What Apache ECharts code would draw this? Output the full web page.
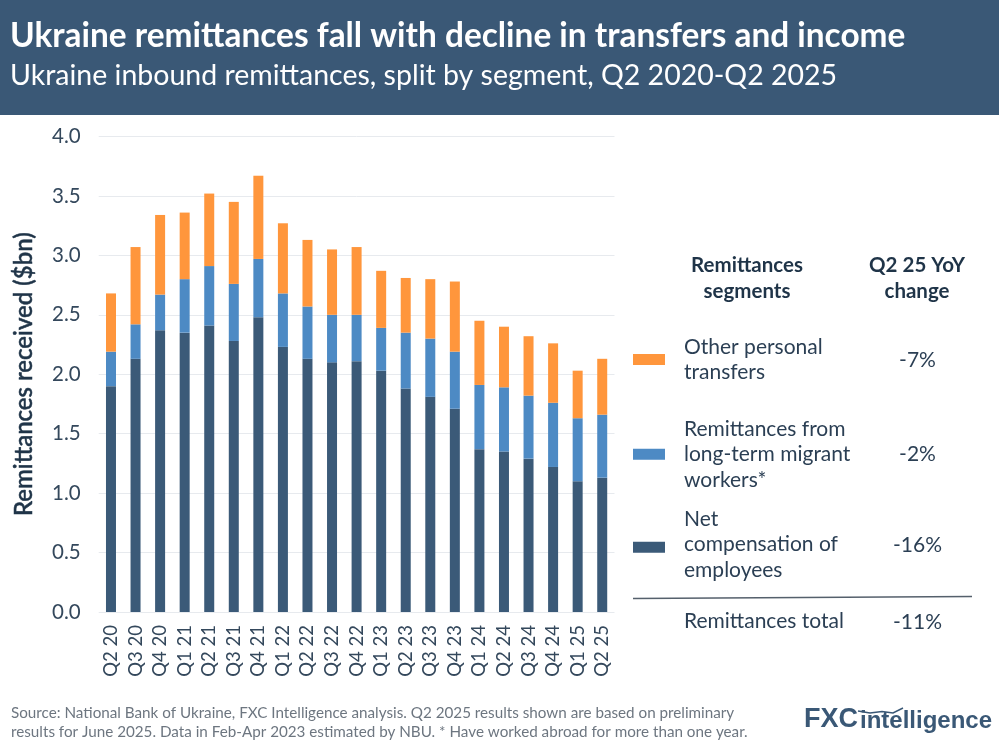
<!DOCTYPE html>
<html><head><meta charset="utf-8">
<style>html,body{margin:0;padding:0;background:#fff}#c{width:999px;height:749px}</style>
<script src="https://cdn.jsdelivr.net/npm/echarts@6/dist/echarts.min.js"></script>
</head><body><div id="c"></div>
<script>
const categories = ['Q2 20','Q3 20','Q4 20','Q1 21','Q2 21','Q3 21','Q4 21','Q1 22','Q2 22','Q3 22','Q4 22','Q1 23','Q2 23','Q3 23','Q4 23','Q1 24','Q2 24','Q3 24','Q4 24','Q1 25','Q2 25'];
const compensation = [1.90,2.13,2.37,2.35,2.41,2.28,2.48,2.23,2.13,2.10,2.11,2.03,1.88,1.81,1.71,1.37,1.35,1.29,1.22,1.10,1.13];
const migrant = [0.29,0.29,0.30,0.45,0.50,0.48,0.49,0.45,0.44,0.40,0.39,0.36,0.47,0.49,0.48,0.54,0.54,0.53,0.54,0.53,0.53];
const other = [0.49,0.65,0.67,0.56,0.61,0.69,0.70,0.59,0.56,0.55,0.57,0.48,0.46,0.50,0.59,0.54,0.51,0.50,0.50,0.40,0.47];
const names = ['Net compensation of employees','Remittances from long-term migrant workers*','Other personal transfers'];
const colors = ['#3b5a78','#4d8ac4','#ff963c'];
const yoy = ['-16%','-2%','-7%'];
const FONT = 'Lato';
const INK = '#2b3f54';
const wrapped = {
  'Net compensation of employees':'Net\ncompensation of\nemployees\n{s|}',
  'Remittances from long-term migrant workers*':'Remittances from\nlong-term migrant\nworkers*',
  'Other personal transfers':'Other personal\ntransfers'
};
function legendAt(name, top){
  return {data:[{name, itemStyle:{color:colors[names.indexOf(name)]}}], left:628, top, orient:'vertical', itemWidth:32, itemHeight:11, itemGap:0, selectedMode:false, icon:'rect',
    formatter:n=>wrapped[n], textStyle:{fontFamily:FONT,fontSize:21,lineHeight:25.5,color:INK,padding:[0,0,0,14],rich:{s:{lineHeight:6,fontSize:1,height:6}}}};
}
function txt(x,y,text,o){return {type:'text',x,y,silent:true,style:Object.assign({text,fontFamily:FONT,fill:INK,textVerticalAlign:'middle'},o)};}
const chart = echarts.init(document.getElementById('c'),null,{renderer:'canvas'});
chart.setOption({
  animation:false,
  backgroundColor:'#fff',
  grid:{left:98.7,top:136.5,width:515.8,height:475.5,containLabel:false},
  xAxis:{type:'category',data:categories,axisTick:{show:false},
    axisLine:{show:false},
    axisLabel:{rotate:90,margin:13,interval:0,fontFamily:FONT,fontSize:18.5,color:'#34485c'}},
  yAxis:{type:'value',min:0,max:4,interval:0.5,
    name:'Remittances received ($bn)',nameLocation:'middle',nameGap:62,nameRotate:90,
    nameTextStyle:{fontFamily:FONT,fontSize:24,fontWeight:500,color:'#1f3448',textBorderColor:'#1f3448',textBorderWidth:0.5},
    axisLine:{show:false},axisTick:{show:false},
    splitLine:{lineStyle:{color:'#e7eaee',width:1}},
    axisLabel:{margin:18,formatter:v=>v.toFixed(1),fontFamily:FONT,fontSize:20.5,color:'#34485c'}},
  legend:[legendAt(names[2],329),legendAt(names[1],411),legendAt(names[0],501)],
  series:[compensation,migrant,other].map((d,i)=>({
    name:names[i],type:'bar',stack:'total',data:d,barWidth:10,itemStyle:{color:colors[i]}
  })),
  graphic:[
    {type:'rect',z:-1,shape:{x:0,y:0,width:999,height:115},style:{fill:'#3a5876'},silent:true},
    txt(10,36,'Ukraine remittances fall with decline in transfers and income',{fontSize:33.4,fontWeight:700,fill:'#fff'}),
    txt(10,76,'Ukraine inbound remittances, split by segment, Q2 2020-Q2 2025',{fontSize:28.5,fill:'#fff'}),
    txt(747,265,'Remittances',{fontSize:20.5,fontWeight:700,textAlign:'center',fill:'#1f3448'}),
    txt(747,291,'segments',{fontSize:20.5,fontWeight:700,textAlign:'center',fill:'#1f3448'}),
    txt(917,265,'Q2 25 YoY',{fontSize:20.5,fontWeight:700,textAlign:'center',fill:'#1f3448'}),
    txt(917,291,'change',{fontSize:20.5,fontWeight:700,textAlign:'center',fill:'#1f3448'}),
    txt(917.5,360,yoy[2],{fontSize:21,textAlign:'center'}),
    txt(917.5,454,yoy[1],{fontSize:21,textAlign:'center'}),
    txt(917.5,545,yoy[0],{fontSize:21,textAlign:'center'}),
    {type:'line',silent:true,shape:{x1:633,y1:598.5,x2:972,y2:596.5},style:{stroke:'#55606c',lineWidth:1.5}},
    txt(684,621,'Remittances total',{fontSize:21}),
    txt(917.5,622,'-11%',{fontSize:21,textAlign:'center'}),
    txt(11,713,'Source: National Bank of Ukraine, FXC Intelligence analysis. Q2 2025 results shown are based on preliminary',{fontSize:15.23,fill:'#6d7680'}),
    txt(11,732,'results for June 2025. Data in Feb-Apr 2023 estimated by NBU. * Have worked abroad for more than one year.',{fontSize:15.23,fill:'#6d7680'}),
    txt(804,733,'FXC',{fontSize:27,fontWeight:700,fontFamily:'Liberation Sans',fill:'#3a5876',textVerticalAlign:'bottom'}),
    txt(860,733,'intelligence',{fontSize:24,fontWeight:700,fontFamily:'Liberation Sans',fill:'#3a5876',textVerticalAlign:'bottom'}),
    {type:'polyline',silent:true,shape:{points:[[858,711],[870,713],[882,711.5],[893,713],[903,708]]},style:{stroke:'#3a5876',fill:null,lineWidth:1.5}}
  ]
});
</script></body></html>
